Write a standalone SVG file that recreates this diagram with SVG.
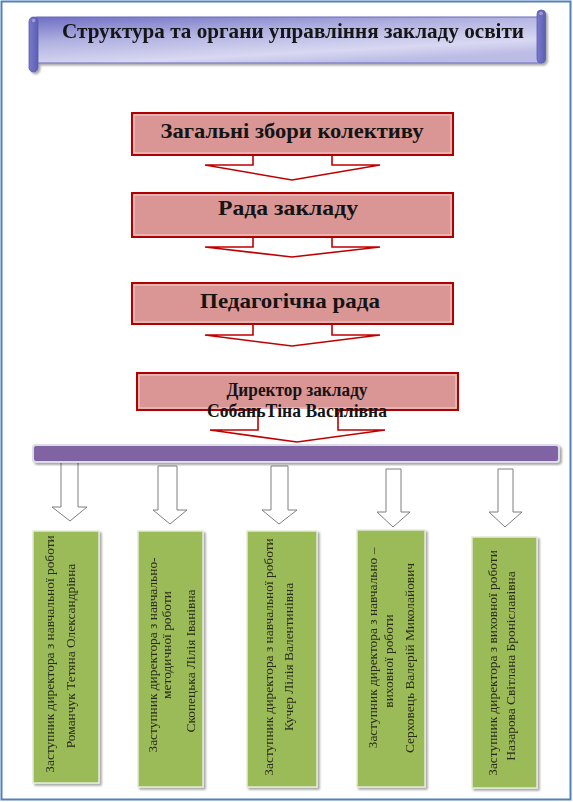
<svg xmlns="http://www.w3.org/2000/svg" width="573" height="802" viewBox="0 0 573 802">
<defs>
<linearGradient id="scrollG" x1="0" y1="0" x2="0.6" y2="1">
<stop offset="0" stop-color="#6e6ec4"/>
<stop offset="0.4" stop-color="#b0b0e0"/>
<stop offset="0.8" stop-color="#d8d8f2"/>
<stop offset="1" stop-color="#bcbce6"/>
</linearGradient>
<linearGradient id="rollG" x1="0" y1="0" x2="1" y2="0">
<stop offset="0" stop-color="#7a7acb"/>
<stop offset="1" stop-color="#5d5db4"/>
</linearGradient>
<filter id="sh" x="-10%" y="-10%" width="130%" height="130%">
<feGaussianBlur in="SourceAlpha" stdDeviation="1.2"/>
<feOffset dx="1.5" dy="1.5"/>
<feComponentTransfer><feFuncA type="linear" slope="0.35"/></feComponentTransfer>
<feMerge><feMergeNode/><feMergeNode in="SourceGraphic"/></feMerge>
</filter>
</defs>
<style>
.red{fill:#d99694;stroke:#b00000;stroke-width:2}
.redin{fill:none;stroke:#f0d0cf;stroke-width:1}
.rarr{fill:#ffffff;stroke:#c00000;stroke-width:1.6;stroke-linejoin:miter}
.garr{fill:#ffffff;stroke:#7f7f7f;stroke-width:1}
.green{fill:#9bbb59;stroke:#e4ead6;stroke-width:1.5}
.tb{font-family:"Liberation Serif","Times New Roman",serif;font-weight:bold;fill:#141414;text-anchor:middle}
.tg{font-family:"Liberation Serif","Times New Roman",serif;font-size:13.4px;fill:#2a2a1a;text-anchor:middle}
</style>
<rect x="0" y="0" width="573" height="802" fill="#ffffff"/>
<rect x="1.5" y="1.5" width="569" height="798" fill="none" stroke="#4f81bd" stroke-width="2"/>

<g id="title" filter="url(#sh)">
<rect x="36" y="17" width="506" height="46" fill="url(#scrollG)" stroke="#6a6ab8" stroke-width="1"/>
<rect x="537" y="10" width="8.5" height="53" rx="4" fill="url(#rollG)" stroke="#5a5aae" stroke-width="0.8"/>
<rect x="29" y="17" width="9" height="55" rx="4.5" fill="url(#rollG)" stroke="#5a5aae" stroke-width="0.8"/>
<circle cx="33.5" cy="20.5" r="2.3" fill="#9a9ad6" stroke="#5a5aae" stroke-width="0.6"/>
<circle cx="541" cy="13.5" r="2.3" fill="#9a9ad6" stroke="#5a5aae" stroke-width="0.6"/>
<text class="tb" x="293" y="38" font-size="21" textLength="462" lengthAdjust="spacingAndGlyphs">Структура та органи управління закладу освіти</text>
</g>

<g id="connectors">
<polygon class="rarr" points="253,155 253,165 205,165 292,180 380,165 332,165 332,155"/>
<polygon class="rarr" points="253,237 253,247 205,247 292,257 380,247 332,247 332,237"/>
<polygon class="rarr" points="253,324 253,335 205,335 292,346 380,335 332,335 332,324"/>
<polygon class="rarr" points="258,410 258,430 210,430 297,442 385,430 338,430 338,410"/>
<polygon class="garr" points="61,462 78,462 78,507 87,507 70,521 52,507 61,507"/>
<polygon class="garr" points="158,466 177,466 177,510 187,510 170,524 153,510 158,510"/>
<polygon class="garr" points="271,466 288,466 288,510 297,510 279,524 262,510 271,510"/>
<polygon class="garr" points="386,469 401,469 401,512 410,512 393,527 377,512 386,512"/>
<polygon class="garr" points="498,469 513,469 513,512 522,512 505,527 489,512 498,512"/>
</g>

<g id="zbory">
<rect class="red" x="132" y="113" width="321" height="42"/>
<rect class="redin" x="134" y="115" width="317" height="38"/>
<text class="tb" x="292" y="138" font-size="22" textLength="263" lengthAdjust="spacingAndGlyphs">Загальні збори колективу</text>
</g>

<g id="rada">
<rect class="red" x="132" y="193" width="321" height="44"/>
<rect class="redin" x="134" y="195" width="317" height="40"/>
<text class="tb" x="288" y="215" font-size="22" textLength="140" lengthAdjust="spacingAndGlyphs">Рада закладу</text>
</g>

<g id="pedrada">
<rect class="red" x="132" y="283" width="321" height="41"/>
<rect class="redin" x="134" y="285" width="317" height="37"/>
<text class="tb" x="290" y="308" font-size="22" textLength="180" lengthAdjust="spacingAndGlyphs">Педагогічна рада</text>
</g>

<g id="dyrektor">
<rect class="red" x="137" y="373" width="321" height="37"/>
<rect class="redin" x="139" y="375" width="317" height="33"/>
<polygon points="259.5,409 336.5,409 336.5,418 259.5,418" fill="#ffffff"/>
<text class="tb" x="297" y="396" font-size="18" textLength="141" lengthAdjust="spacingAndGlyphs">Директор закладу</text>
<text class="tb" x="297" y="417" font-size="18" textLength="180" lengthAdjust="spacingAndGlyphs">СобаньТіна Василівна</text>
</g>

<g id="bar">
<rect x="33" y="445" width="526" height="17" rx="3" fill="#8064a2" stroke="#dcdce6" stroke-width="2" filter="url(#sh)"/>
</g>

<g id="zast1" filter="url(#sh)">
<rect class="green" x="33" y="531" width="66" height="252"/>
<text class="tg" transform="translate(54,654) rotate(-90)">Заступник директора з навчальної роботи</text>
<text class="tg" transform="translate(75,656) rotate(-90)">Романчук Тетяна Олександрівна</text>
</g>

<g id="zast2" filter="url(#sh)">
<rect class="green" x="138" y="531" width="65" height="256"/>
<text class="tg" transform="translate(157,655) rotate(-90)">Заступник директора з навчально-</text>
<text class="tg" transform="translate(171,645) rotate(-90)">методичної роботи</text>
<text class="tg" transform="translate(195,661) rotate(-90)">Скопецька  Лілія Іванівна</text>
</g>

<g id="zast3" filter="url(#sh)">
<rect class="green" x="247" y="531" width="70" height="256"/>
<text class="tg" transform="translate(273,657) rotate(-90)">Заступник директора з навчальної роботи</text>
<text class="tg" transform="translate(293,657) rotate(-90)">Кучер  Лілія Валентинівна</text>
</g>

<g id="zast4" filter="url(#sh)">
<rect class="green" x="357" y="530" width="68" height="257"/>
<text class="tg" transform="translate(377,648) rotate(-90)">Заступник директора з навчально –</text>
<text class="tg" transform="translate(393,661) rotate(-90)">виховної роботи</text>
<text class="tg" transform="translate(414,658) rotate(-90)">Серховець Валерій Миколайович</text>
</g>

<g id="zast5" filter="url(#sh)">
<rect class="green" x="472" y="537" width="65" height="251"/>
<text class="tg" transform="translate(497,663) rotate(-90)">Заступник директора з виховної роботи</text>
<text class="tg" transform="translate(515,666) rotate(-90)">Назарова Світлана Броніславівна</text>
</g>
</svg>
